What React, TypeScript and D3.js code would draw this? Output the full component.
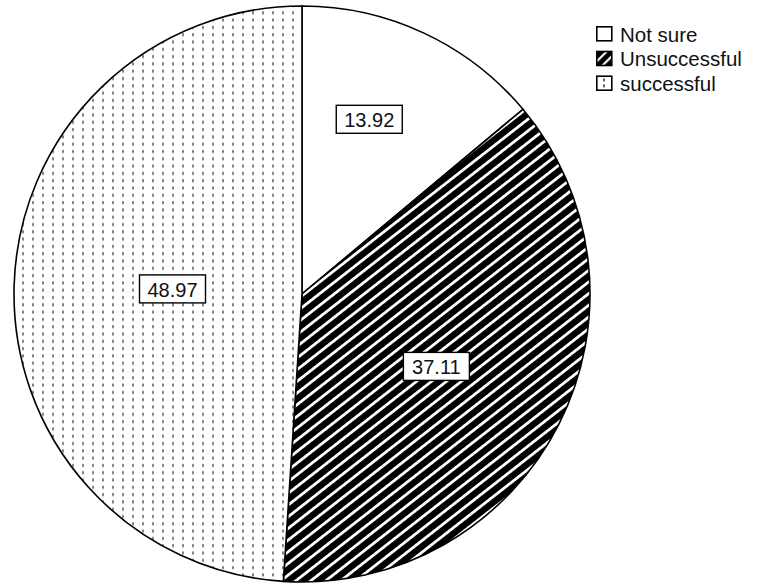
import React from "react";
import * as d3 from "d3";

const categories = ["Not sure", "Unsuccessful", "successful"];
const values = [13.92, 37.11, 48.97];
const labels = ["13.92", "37.11", "48.97"];
const fills = ["white", "url(#hatch)", "url(#dots)"];
// label placement: [radius fraction, angle shift in degrees]
const labelPlacement: [number, number][] = [
  [0.65, -4],
  [0.53, 1.4],
  [0.45, 0.4],
];

const W = 758;
const H = 588;
const cx = 302;
const cy = 294;
const R = 288;
const FONT = "'Liberation Sans', Arial, sans-serif";

export default function App() {
  const pie = d3.pie<number>().sort(null).value((d) => d);
  const arcs = pie(values);
  const arcGen = d3.arc<d3.PieArcDatum<number>>().innerRadius(0).outerRadius(R);

  return (
    <svg
      width={W}
      height={H}
      style={{ position: "absolute", left: 0, top: 0, background: "white" }}
    >
      <defs>
        <pattern id="hatch" patternUnits="userSpaceOnUse" width="9.2" height="9.2" patternTransform="rotate(52)">
          <rect width="9.2" height="9.2" fill="black" />
          <rect x="0" y="0" width="2.8" height="9.2" fill="white" />
        </pattern>
        <pattern id="dots" patternUnits="userSpaceOnUse" width="10" height="7.3" x="6" y="0">
          <rect width="10" height="7.3" fill="white" />
          <rect x="4" y="2" width="2" height="3" fill="#808080" />
        </pattern>
        <pattern id="hatchL" patternUnits="userSpaceOnUse" width="7" height="7" patternTransform="rotate(45)">
          <rect width="7" height="7" fill="black" />
          <rect x="0" y="0" width="2.2" height="7" fill="white" />
        </pattern>
      </defs>
      <g transform={`translate(${cx},${cy})`}>
        {arcs.map((a, i) => (
          <path key={i} d={arcGen(a) || ""} fill={fills[i]} stroke="black" strokeWidth={1.6} />
        ))}
        {arcs.map((a, i) => {
          const [f, shift] = labelPlacement[i];
          const ang = (a.startAngle + a.endAngle) / 2 + (shift * Math.PI) / 180;
          const x = Math.sin(ang) * R * f;
          const y = -Math.cos(ang) * R * f;
          const bw = 66;
          const bh = 28;
          return (
            <g key={"l" + i} transform={`translate(${x},${y})`}>
              <rect x={-bw / 2} y={-bh / 2} width={bw} height={bh} fill="white" stroke="black" strokeWidth={1.4} />
              <text
                x={0}
                y={1}
                textAnchor="middle"
                dominantBaseline="central"
                fontFamily={FONT}
                fontSize={20}
                fill="#111"
              >
                {labels[i]}
              </text>
            </g>
          );
        })}
      </g>
      <g transform="translate(596,26)">
        {categories.map((c, i) => (
          <g key={c} transform={`translate(0,${i * 24.7})`}>
            <rect
              x={0.8}
              y={0.8}
              width={15}
              height={14}
              fill={i === 1 ? "url(#hatchL)" : "white"}
              stroke="black"
              strokeWidth={1.6}
            />
            {i === 2 && (
              <>
                <rect x={7} y={3} width={2} height={3} fill="#666" />
                <rect x={7} y={9} width={2} height={3} fill="#666" />
              </>
            )}
            <text
              x={24}
              y={8}
              dominantBaseline="central"
              fontFamily={FONT}
              fontSize={20.5}
              fill="#111"
            >
              {c}
            </text>
          </g>
        ))}
      </g>
    </svg>
  );
}
